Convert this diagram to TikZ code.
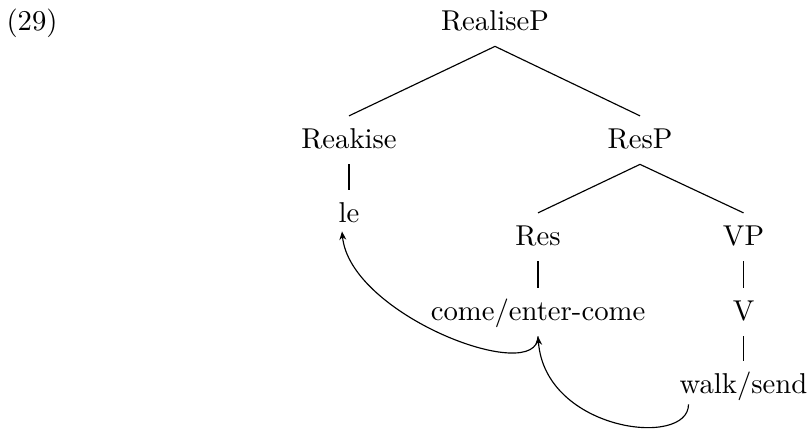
\documentclass[tikz,border=0pt]{standalone}
\usetikzlibrary{arrows.meta}
\begin{document}
\begin{tikzpicture}[x=0.3484pt,y=-0.3484pt,
  lbl/.style={anchor=base,inner xsep=0pt,inner ysep=2pt,text height=9pt,text depth=3.5pt},
  arr/.style={-{Stealth[length=3pt,width=2.4pt]},line width=0.4pt}]
\useasboundingbox (0,0) rectangle (810,436);
\node[anchor=base west,inner sep=0pt] (ex) at (6,30) {(29)};
\node[lbl] (rp) at (495,30) {RealiseP};
\node[lbl] (rk) at (349,148) {Reakise};
\node[lbl] (resp) at (640,148) {ResP};
\node[lbl] (le) at (349,222) {le};
\node[lbl] (res) at (538,245) {Res};
\node[lbl] (vp) at (743.5,245) {VP};
\node[lbl] (come) at (538,320) {come/enter-come};
\node[lbl] (v) at (743.5,320) {V};
\node[lbl] (walk) at (743.5,393) {walk/send};
\draw (rp.south) -- (rk.north);
\draw (rp.south) -- (resp.north);
\draw (rk.south) -- (le.north);
\draw (resp.south) -- (res.north);
\draw (resp.south) -- (vp.north);
\draw (res.south) -- (come.north);
\draw (vp.south) -- (v.north);
\draw (v.south) -- (walk.north);
\draw[arr] (come.south) .. controls +(0,50) and +(8,84) .. ([shift={(-7,-7)}]le.south);
\draw[arr] ([shift={(-55,-5)}]walk.south) .. controls +(0,44) and +(7,95) .. (come.south);
\end{tikzpicture}
\end{document}
